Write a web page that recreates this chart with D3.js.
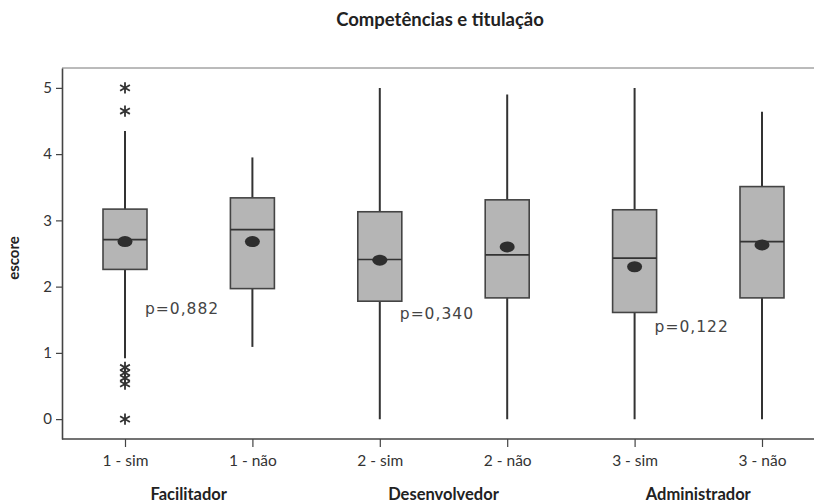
<!DOCTYPE html>
<html>
<head>
<meta charset="utf-8">
<script src="https://cdn.jsdelivr.net/npm/d3@7/dist/d3.min.js"></script>
<style>
  html, body { margin: 0; padding: 0; background: #fff; }
  svg { display: block; }
</style>
</head>
<body>
<script>
// Boxplot summaries of "escore" by competence and degree (sim / não)
const categories = ["1 - sim", "1 - não", "2 - sim", "2 - não", "3 - sim", "3 - não"];
const whiskerLow  = [0.92, 1.09, 0.00, 0.00, 0.00, 0.00];
const q1          = [2.26, 1.97, 1.78, 1.83, 1.61, 1.83];
const median      = [2.71, 2.86, 2.41, 2.48, 2.43, 2.68];
const q3          = [3.17, 3.34, 3.13, 3.31, 3.16, 3.51];
const whiskerHigh = [4.35, 3.95, 5.00, 4.90, 5.00, 4.64];
const means       = [2.68, 2.68, 2.40, 2.60, 2.30, 2.63];
// outliers: [category index, value]
const outliers = [[0, 5.00], [0, 4.65], [0, 0.78], [0, 0.70], [0, 0.62], [0, 0.53], [0, 0.00]];
const groups = ["Facilitador", "Desenvolvedor", "Administrador"];
const pValues = ["p=0,882", "p=0,340", "p=0,122"];
const pValueY = [1.58, 1.51, 1.31];
const yTicks = [0, 1, 2, 3, 4, 5];

const W = 814, H = 504;
const margin = { top: 68, right: 0, bottom: 65, left: 62 };

const svg = d3.select("body").append("svg")
  .attr("width", W).attr("height", H);

const x = d3.scalePoint()
  .domain(categories)
  .range([125, 762]);

const y = d3.scaleLinear()
  .domain([-0.3, 5.3])
  .range([H - margin.bottom, margin.top]);

const ink = "#333";
const boxW = 44;
const sans = "Lato, 'Open Sans', sans-serif";

// Title
svg.append("text")
  .attr("x", 440).attr("y", 26)
  .attr("text-anchor", "middle")
  .attr("font-family", sans)
  .attr("font-weight", 700)
  .attr("font-size", 18.5)
  .attr("fill", "#222")
  .text("Competências e titulação");

// Top frame line
svg.append("line")
  .attr("x1", margin.left).attr("x2", W)
  .attr("y1", margin.top).attr("y2", margin.top)
  .attr("stroke", "#777").attr("stroke-width", 1);

// Y axis
const yAxis = svg.append("g")
  .attr("transform", `translate(${margin.left},0)`)
  .call(d3.axisLeft(y).tickValues(yTicks).tickFormat(d3.format("d")).tickSize(6).tickSizeOuter(0));
yAxis.select(".domain").attr("stroke", "#444").attr("stroke-width", 1.6);
yAxis.selectAll(".tick line").attr("stroke", "#444").attr("stroke-width", 1.2);
yAxis.selectAll(".tick text")
  .attr("font-family", sans)
  .attr("font-size", 15).attr("fill", "#333").attr("dx", -1);

// X axis
const xAxis = svg.append("g")
  .attr("transform", `translate(0,${H - margin.bottom})`)
  .call(d3.axisBottom(x).tickSize(8).tickSizeOuter(0));
xAxis.select(".domain")
  .attr("d", `M${margin.left},0H${W}`)
  .attr("stroke", "#444").attr("stroke-width", 1.6);
xAxis.selectAll(".tick line").attr("stroke", "#444").attr("stroke-width", 1.2);
xAxis.selectAll(".tick text")
  .attr("font-family", sans)
  .attr("font-size", 15.5).attr("fill", "#333").attr("dy", "1.0em");

// Y axis title
svg.append("text")
  .attr("transform", `translate(19,${258}) rotate(-90)`)
  .attr("text-anchor", "middle")
  .attr("font-family", sans)
  .attr("font-weight", 700)
  .attr("font-size", 15)
  .attr("fill", "#222")
  .text("escore");

// Group labels beneath each pair of categories
svg.selectAll("text.group")
  .data(groups)
  .enter().append("text")
  .attr("class", "group")
  .attr("x", (d, i) => (x(categories[2 * i]) + x(categories[2 * i + 1])) / 2)
  .attr("y", 500)
  .attr("text-anchor", "middle")
  .attr("font-family", sans)
  .attr("font-weight", 700)
  .attr("font-size", 16.5)
  .attr("fill", "#222")
  .text(d => d);

const boxes = svg.append("g");
const idx = d3.range(categories.length);

// Whiskers (single vertical line through the box)
boxes.selectAll("line.whisker")
  .data(idx).enter().append("line")
  .attr("class", "whisker")
  .attr("x1", i => x(categories[i])).attr("x2", i => x(categories[i]))
  .attr("y1", i => y(whiskerLow[i])).attr("y2", i => y(whiskerHigh[i]))
  .attr("stroke", ink).attr("stroke-width", 2);

// Boxes
boxes.selectAll("rect.box")
  .data(idx).enter().append("rect")
  .attr("class", "box")
  .attr("x", i => x(categories[i]) - boxW / 2)
  .attr("width", boxW)
  .attr("y", i => y(q3[i]))
  .attr("height", i => y(q1[i]) - y(q3[i]))
  .attr("fill", "#b5b5b5")
  .attr("stroke", "#444").attr("stroke-width", 1.6);

// Medians
boxes.selectAll("line.median")
  .data(idx).enter().append("line")
  .attr("class", "median")
  .attr("x1", i => x(categories[i]) - boxW / 2)
  .attr("x2", i => x(categories[i]) + boxW / 2)
  .attr("y1", i => y(median[i])).attr("y2", i => y(median[i]))
  .attr("stroke", "#333").attr("stroke-width", 1.6);

// Means
boxes.selectAll("ellipse.mean")
  .data(idx).enter().append("ellipse")
  .attr("class", "mean")
  .attr("cx", i => x(categories[i]))
  .attr("cy", i => y(means[i]))
  .attr("rx", 7.5).attr("ry", 5.5)
  .attr("fill", "#2e2e2e");

// Outliers as asterisks
const star = d3.symbol().type(d3.symbolAsterisk).size(90);
boxes.selectAll("path.outlier")
  .data(outliers).enter().append("path")
  .attr("class", "outlier")
  .attr("transform", d => `translate(${x(categories[d[0]])},${y(d[1])})`)
  .attr("d", star)
  .attr("fill", "none")
  .attr("stroke", "#333").attr("stroke-width", 1.8);

// p-values next to the "sim" category of each pair
svg.selectAll("text.pval")
  .data(pValues).enter().append("text")
  .attr("class", "pval")
  .attr("x", (d, i) => x(categories[2 * i]) + 20)
  .attr("y", (d, i) => y(pValueY[i]))
  .attr("font-family", "'DejaVu Sans', Verdana, sans-serif")
  .attr("font-size", 15.5)
  .attr("letter-spacing", 1)
  .attr("fill", "#444")
  .text(d => d);
</script>
</body>
</html>
